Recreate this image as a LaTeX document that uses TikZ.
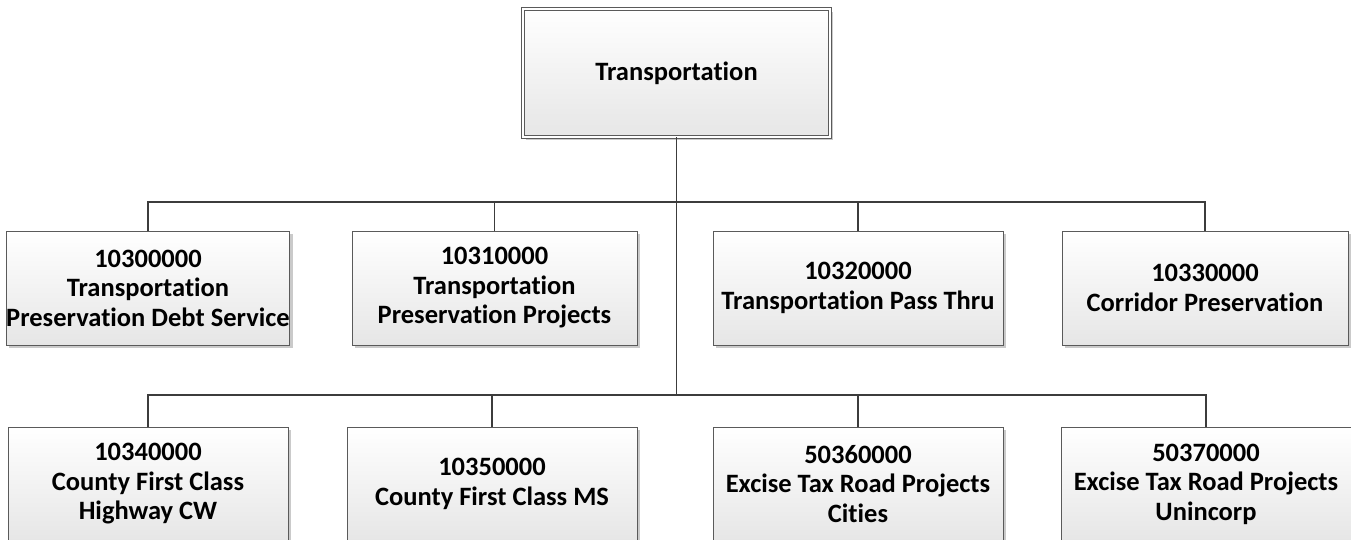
\documentclass[tikz,border=0pt]{standalone}
\usepackage{fontspec}
\setmainfont{Carlito}[Ligatures=NoCommon]
\usetikzlibrary{shadows}

\definecolor{boxline}{HTML}{5A5A5A}
\definecolor{wire}{HTML}{3C3C3C}
\definecolor{boxbottom}{HTML}{E6E6E6}
\definecolor{shade}{HTML}{A8A8A8}

\tikzset{
  unit/.style={draw=boxline, line width=0.8pt, inner sep=0pt, outer sep=0pt,
    top color=white, bottom color=boxbottom,
    drop shadow={shadow xshift=3pt, shadow yshift=-3pt, fill=shade, opacity=0.6},
    align=center, font=\bfseries\fontsize{26.5}{29.5}\selectfont},
  rootbox/.style={unit, double=white, double distance=2.6pt, line width=0.8pt},
  wire/.style={draw=wire, line width=1.4pt},
}

\begin{document}
\begin{tikzpicture}[x=1pt, y=-1pt]
  \useasboundingbox (0,0) rectangle (1351,541);
  \fill[white] (0,0) rectangle (1351,541);
  \clip (0,0) rectangle (1351,539.5);

  % root of the tree
  \node[rootbox, minimum width=307pt, minimum height=128pt] (root) at (676.5,73)
    {Transportation};

  % first level of cost centres
  \node[unit, minimum width=280pt, minimum height=114pt] (a1) at (148,288)
    {10300000\\Transportation\\Preservation Debt Service};
  \node[unit, minimum width=285pt, minimum height=114pt] (a2) at (494.5,288)
    {10310000\\Transportation\\Preservation Projects};
  \node[unit, minimum width=290pt, minimum height=114pt] (a3) at (858,288)
    {10320000\\Transportation Pass Thru};
  \node[unit, minimum width=286pt, minimum height=114pt] (a4) at (1205,288)
    {10330000\\Corridor Preservation};

  % second level of cost centres
  \node[unit, minimum width=280pt, minimum height=114pt] (b1) at (148,484)
    {10340000\\County First Class\\Highway CW};
  \node[unit, minimum width=290pt, minimum height=114pt] (b2) at (492,484)
    {10350000\\County First Class MS};
  \node[unit, minimum width=290pt, minimum height=114pt] (b3) at (858,484)
    {50360000\\Excise Tax Road Projects\\Cities};
  \node[unit, minimum width=290pt, minimum height=114pt] (b4) at (1206,484)
    {50370000\\Excise Tax Road Projects\\Unincorp};

  % junctions on the trunk
  \coordinate (j1) at (root.south |- 0,202);
  \coordinate (j2) at (root.south |- 0,395);

  % trunk and branches
  \draw[wire] (root.south) -- (j2);
  \draw[wire] (a1.north) |- (j1) -| (a4.north);
  \draw[wire] (j1) -| (a2.north);
  \draw[wire] (j1) -| (a3.north);
  \draw[wire] (b1.north) |- (j2) -| (b4.north);
  \draw[wire] (j2) -| (b2.north);
  \draw[wire] (j2) -| (b3.north);
\end{tikzpicture}
\end{document}
